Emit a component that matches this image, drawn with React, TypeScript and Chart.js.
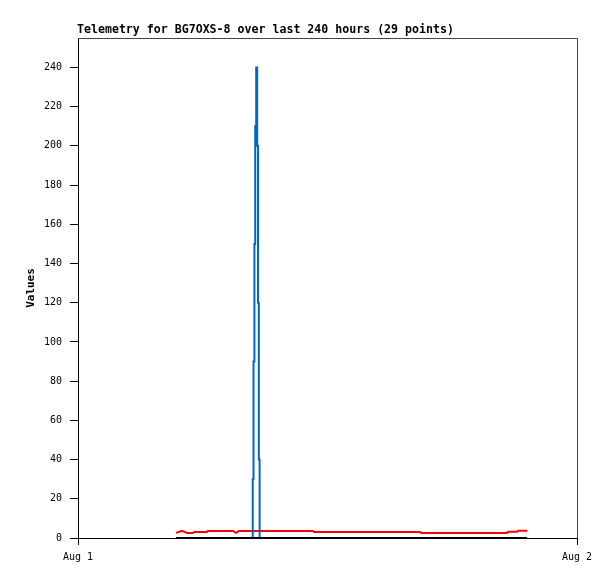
import React, { useEffect, useRef } from "react";
import { Chart, registerables } from "chart.js";

Chart.register(...registerables);

const TITLE = "Telemetry for BG7OXS-8 over last 240 hours (29 points)";
const Y_AXIS_TITLE = "Values";
const X_TICK_VALUES = [0, 1440]; // minutes since Aug 1 00:00
const X_TICK_LABELS = ["Aug 1", "Aug 2"];
const Y_TICK_VALUES = [0, 20, 40, 60, 80, 100, 120, 140, 160, 180, 200, 220, 240];
const Y_MAX = 255;

// Red series (minutes since Aug 1 00:00, value)
const redTimes = [283, 300, 315, 332, 335, 372, 375, 447, 456, 465, 678, 681, 987, 990, 1238, 1241, 1267, 1270, 1296];
const redValues = [2.6, 3.7, 2.6, 2.6, 3.1, 3.1, 3.6, 3.6, 2.6, 3.6, 3.6, 3.1, 3.1, 2.6, 2.6, 3.2, 3.2, 3.7, 3.7];

// Blue series
const blueTimes = [283, 504.2, 506.5, 509.1, 511.4, 514.2, 517.1, 519.4, 521.8, 524.1, 1296];
const blueValues = [0, 30, 90, 150, 210, 240, 200, 120, 40, 0, 0];

// Black series
const blackTimes = [283, 1296];
const blackValues = [0, 0];

const FONT = "'DejaVu Sans Mono', 'Liberation Mono', monospace";

const toPoints = (xs: number[], ys: number[]) => xs.map((x, i) => ({ x, y: ys[i] }));

const framePlugin = {
  id: "frame",
  afterDraw(chart: any) {
    const { ctx, chartArea } = chart;
    const { left, top, right, bottom } = chartArea;
    ctx.save();
    ctx.strokeStyle = "#444444";
    ctx.lineWidth = 1;
    ctx.beginPath();
    ctx.moveTo(Math.round(left), Math.round(top) + 0.5);
    ctx.lineTo(Math.round(right) + 0.5, Math.round(top) + 0.5);
    ctx.lineTo(Math.round(right) + 0.5, Math.round(bottom));
    ctx.stroke();
    ctx.fillStyle = "#000000";
    ctx.font = `bold 11.6px ${FONT}`;
    ctx.textAlign = "left";
    ctx.textBaseline = "alphabetic";
    ctx.fillText(TITLE, left - 1, top - 5);
    ctx.restore();
  },
};

export default function App() {
  const canvasRef = useRef<HTMLCanvasElement | null>(null);

  useEffect(() => {
    const canvas = canvasRef.current;
    if (!canvas) return;
    const chart = new Chart(canvas, {
      type: "line",
      data: {
        datasets: [
          {
            label: "black",
            data: toPoints(blackTimes, blackValues),
            borderColor: "#000000",
            borderWidth: 2,
            pointRadius: 0,
            tension: 0,
          },
          {
            label: "blue",
            data: toPoints(blueTimes, blueValues),
            borderColor: "#0066cc",
            borderWidth: 2,
            pointRadius: 0,
            tension: 0,
            stepped: "before",
          },
          {
            label: "red",
            data: toPoints(redTimes, redValues),
            borderColor: "#ff0000",
            borderWidth: 2,
            pointRadius: 0,
            tension: 0,
          },
        ],
      },
      options: {
        responsive: false,
        animation: false,
        devicePixelRatio: 1,
        layout: { padding: { top: 38, right: 38, left: 0, bottom: 0 } },
        plugins: {
          legend: { display: false },
          title: { display: false },
          tooltip: { enabled: false },
        },
        scales: {
          x: {
            type: "linear",
            min: X_TICK_VALUES[0],
            max: X_TICK_VALUES[X_TICK_VALUES.length - 1],
            afterBuildTicks: (scale: any) => {
              scale.ticks = X_TICK_VALUES.map((v) => ({ value: v }));
            },
            afterFit: (scale: any) => {
              scale.height = 41;
            },
            ticks: {
              autoSkip: false,
              maxRotation: 0,
              padding: 6,
              color: "#000000",
              font: { family: FONT, size: 10 },
              callback: (value: any) => X_TICK_LABELS[X_TICK_VALUES.indexOf(Number(value))] ?? "",
            },
            grid: {
              drawOnChartArea: false,
              drawTicks: true,
              tickLength: 7,
              color: "#000000",
            },
            border: { display: true, color: "#000000", width: 1 },
          },
          y: {
            type: "linear",
            min: 0,
            max: Y_MAX,
            afterBuildTicks: (scale: any) => {
              scale.ticks = Y_TICK_VALUES.map((v) => ({ value: v }));
            },
            afterFit: (scale: any) => {
              scale.width = 78;
            },
            ticks: {
              autoSkip: false,
              padding: 8,
              color: "#000000",
              font: { family: FONT, size: 10 },
              callback: (value: any) => String(value),
            },
            grid: {
              drawOnChartArea: false,
              drawTicks: true,
              tickLength: 8,
              color: "#000000",
            },
            border: { display: true, color: "#000000", width: 1 },
            title: {
              display: true,
              text: Y_AXIS_TITLE,
              color: "#000000",
              font: { family: FONT, size: 11, weight: "bold" },
              padding: { top: 25, bottom: 0 },
            },
          },
        },
      },
      plugins: [framePlugin],
    });
    return () => chart.destroy();
  }, []);

  return (
    <div style={{ position: "absolute", left: 0, top: 0, width: 615, height: 579, background: "#ffffff" }}>
      <canvas ref={canvasRef} width={615} height={579} style={{ display: "block" }} />
    </div>
  );
}
